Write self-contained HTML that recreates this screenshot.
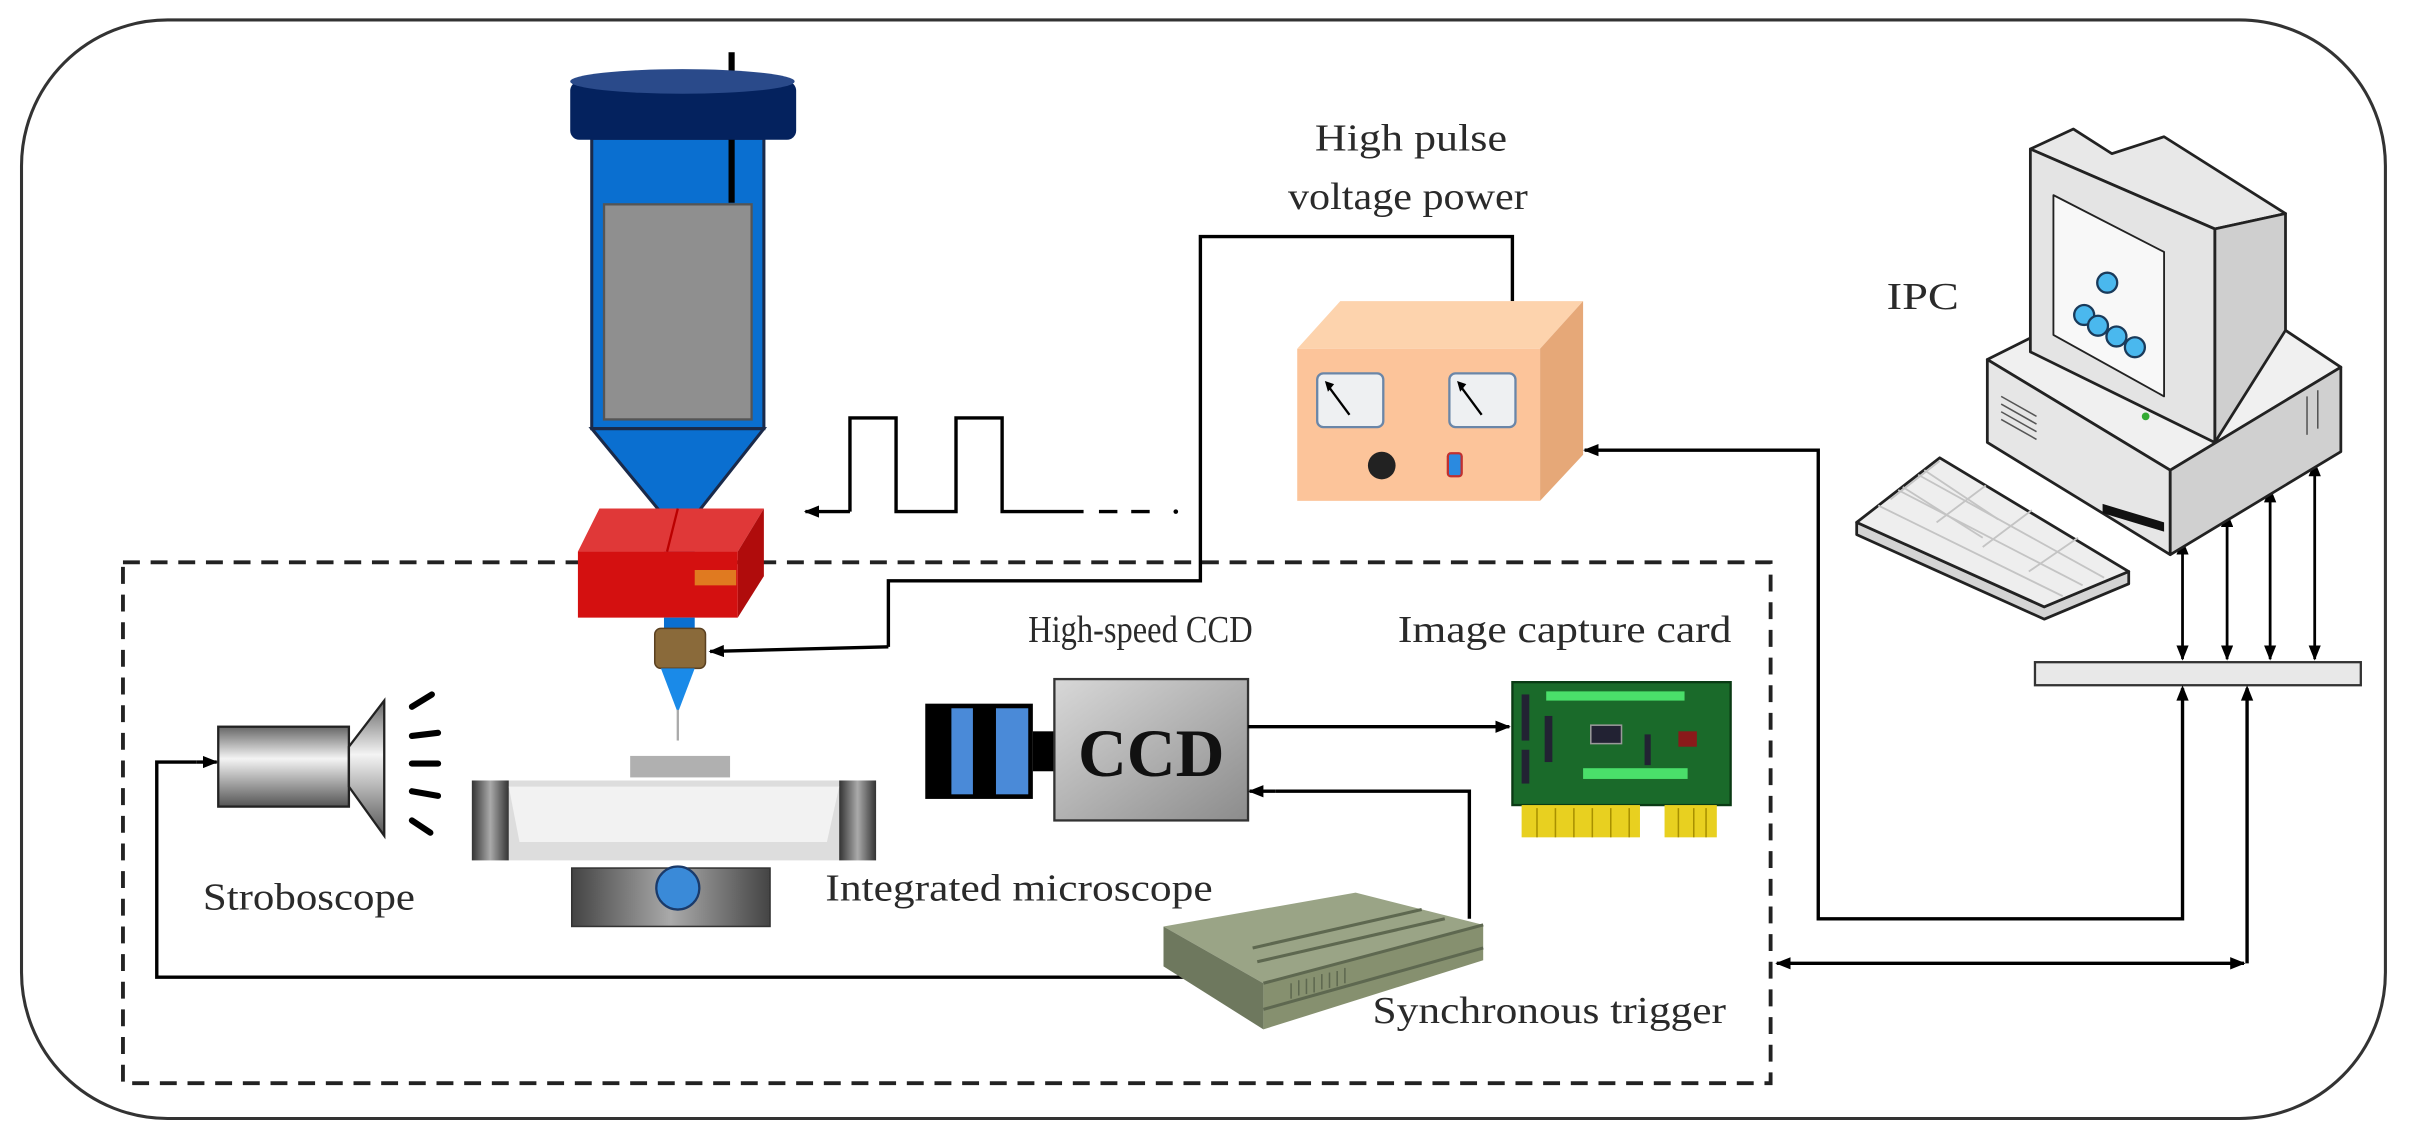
<!DOCTYPE html>
<html><head><meta charset="utf-8"><style>
html,body{margin:0;padding:0;background:#fff;}
svg{display:block;}
text{font-family:"Liberation Serif",serif;fill:#2a2a2a;}
</style></head><body>
<svg width="2410" height="1140" viewBox="0 0 1568 742" preserveAspectRatio="none" xmlns="http://www.w3.org/2000/svg">
<defs>
<marker id="ah" markerWidth="10" markerHeight="8" refX="9" refY="4" orient="auto" markerUnits="userSpaceOnUse"><path d="M0,0 L10,4 L0,8 z" fill="#000"/></marker>
<marker id="as" markerWidth="10" markerHeight="8" refX="1" refY="4" orient="auto" markerUnits="userSpaceOnUse"><path d="M10,0 L0,4 L10,8 z" fill="#000"/></marker>
<linearGradient id="ccd" x1="0" y1="0" x2="1" y2="1"><stop offset="0" stop-color="#d8d8d8"/><stop offset="1" stop-color="#8c8c8c"/></linearGradient>
<linearGradient id="strobe" x1="0" y1="0" x2="0" y2="1"><stop offset="0" stop-color="#666"/><stop offset="0.4" stop-color="#f4f4f4"/><stop offset="1" stop-color="#555"/></linearGradient>
<linearGradient id="base" x1="0" y1="0" x2="1" y2="0"><stop offset="0" stop-color="#444"/><stop offset="0.5" stop-color="#aaa"/><stop offset="1" stop-color="#444"/></linearGradient>
<linearGradient id="blk" x1="0" y1="0" x2="1" y2="0"><stop offset="0" stop-color="#333"/><stop offset="0.5" stop-color="#aaa"/><stop offset="1" stop-color="#333"/></linearGradient>
</defs>

<rect x="14" y="13" width="1538" height="715" rx="95" ry="95" fill="none" stroke="#333" stroke-width="2"/>
<rect x="80" y="366" width="1072" height="339" fill="none" stroke="#222" stroke-width="2.5" stroke-dasharray="11 7"/>

<!-- syringe -->
<line x1="476" y1="34" x2="476" y2="50" stroke="#000" stroke-width="4"/>
<rect x="385" y="90" width="112" height="189" fill="#0a6fd0" stroke="#1a2a4a" stroke-width="2"/>
<line x1="476" y1="90" x2="476" y2="132" stroke="#000" stroke-width="4"/>
<rect x="393" y="133" width="96" height="140" fill="#8f8f8f" stroke="#555" stroke-width="1.5"/>
<path d="M385,279 L497,279 L452,336 L432,336 Z" fill="#0a6fd0" stroke="#1a2a4a" stroke-width="2"/>
<rect x="371" y="53" width="147" height="38" rx="6" fill="#04225e"/>
<ellipse cx="444" cy="53" rx="73" ry="8" fill="#2a4a8a"/>
<rect x="432" y="334" width="20" height="26" fill="#0a6fd0"/>
<path d="M376,359 L390,331 L497,331 L480,359 Z" fill="#e03838"/>
<path d="M480,359 L497,331 L497,375 L480,402 Z" fill="#b00c0c"/>
<rect x="376" y="359" width="104" height="43" fill="#d41010"/>
<line x1="441" y1="331" x2="434" y2="359" stroke="#b00" stroke-width="1.5"/>
<rect x="452" y="371" width="27" height="10" fill="#e07a20"/>
<rect x="432" y="402" width="20" height="8" fill="#0a6fd0"/>
<rect x="426" y="409" width="33" height="26" rx="4" fill="#8a6a3a" stroke="#5a4020" stroke-width="1"/>
<path d="M430,435 L452,435 L441,464 Z" fill="#1a8ae8"/>
<line x1="441" y1="462" x2="441" y2="482" stroke="#aaa" stroke-width="1.5"/>
<rect x="410" y="492" width="65" height="14" fill="#b0b0b0"/>
<rect x="307" y="508" width="263" height="52" fill="#ddd"/>
<rect x="307" y="508" width="24" height="52" fill="url(#blk)"/>
<rect x="546" y="508" width="24" height="52" fill="url(#blk)"/>
<path d="M331,512 L546,512 L538,548 L338,548 Z" fill="#f2f2f2"/>
<rect x="372" y="565" width="129" height="38" fill="url(#base)" stroke="#333" stroke-width="1"/>
<circle cx="441" cy="578" r="14" fill="#3a8ad8" stroke="#1a3a6a" stroke-width="1.5"/>

<!-- stroboscope -->
<rect x="142" y="473" width="85" height="52" fill="url(#strobe)" stroke="#222" stroke-width="1.5"/>
<path d="M227,486 L250,456 L250,544 L227,512 Z" fill="url(#strobe)" stroke="#222" stroke-width="1.5"/>
<g stroke="#000" stroke-width="4" stroke-linecap="round">
<line x1="268" y1="460" x2="281" y2="452"/>
<line x1="268" y1="479" x2="285" y2="477"/>
<line x1="268" y1="497" x2="285" y2="497"/>
<line x1="268" y1="515" x2="285" y2="518"/>
<line x1="268" y1="534" x2="280" y2="542"/>
</g>

<polyline points="553,333 553,272 583,272 583,333 622,333 622,272 652,272 652,333 705,333" fill="none" stroke="#000" stroke-width="2.2"/>
<line x1="553" y1="333" x2="524" y2="333" stroke="#000" stroke-width="2.2" marker-end="url(#ah)"/>
<line x1="715" y1="333" x2="748" y2="333" stroke="#000" stroke-width="2.2" stroke-dasharray="12 9"/>
<circle cx="765" cy="333" r="1.5" fill="#000"/>

<polyline points="984,196 984,154 781,154 781,378 578,378 578,421" fill="none" stroke="#000" stroke-width="2.2"/>
<line x1="578" y1="421" x2="462" y2="424" stroke="#000" stroke-width="2.2" marker-end="url(#ah)"/>

<!-- power supply -->
<path d="M844,227 L872,196 L1030,196 L1002,227 Z" fill="#fdd3ad"/>
<path d="M1002,227 L1030,196 L1030,296 L1002,326 Z" fill="#e6a878"/>
<rect x="844" y="227" width="158" height="99" fill="#fcc49a"/>
<rect x="857" y="243" width="43" height="35" rx="4" fill="#eef0f2" stroke="#6a86a8" stroke-width="1.5"/>
<rect x="943" y="243" width="43" height="35" rx="4" fill="#eef0f2" stroke="#6a86a8" stroke-width="1.5"/>
<line x1="864" y1="251" x2="878" y2="270" stroke="#000" stroke-width="1.5"/><path d="M862,248 L868,250 L864,255 Z" fill="#000"/>
<line x1="950" y1="251" x2="964" y2="270" stroke="#000" stroke-width="1.5"/><path d="M948,248 L954,250 L950,255 Z" fill="#000"/>
<circle cx="899" cy="303" r="9" fill="#222"/>
<rect x="942" y="295" width="9" height="15" rx="2" fill="#2a8ae0" stroke="#c03030" stroke-width="1.5"/>

<!-- CCD -->
<rect x="602" y="458" width="70" height="62" fill="#000"/>
<rect x="619" y="461" width="14" height="56" fill="#4a8ad8"/>
<rect x="648" y="461" width="21" height="56" fill="#4a8ad8"/>
<rect x="672" y="476" width="14" height="26" fill="#000"/>
<rect x="686" y="442" width="126" height="92" fill="url(#ccd)" stroke="#333" stroke-width="1.5"/>
<text x="749" y="505" font-size="44" font-weight="bold" text-anchor="middle" style="fill:#111">CCD</text>

<!-- capture card -->
<rect x="984" y="444" width="142" height="80" fill="#1a6a2a" stroke="#0a3a14" stroke-width="1.5"/>
<rect x="1006" y="450" width="90" height="6" fill="#4adf6a"/>
<rect x="1030" y="500" width="68" height="7" fill="#4adf6a"/>
<rect x="990" y="452" width="5" height="30" fill="#223"/>
<rect x="1005" y="466" width="5" height="30" fill="#223"/>
<rect x="990" y="488" width="5" height="22" fill="#223"/>
<rect x="1035" y="472" width="20" height="12" fill="#223" stroke="#999" stroke-width="1"/>
<rect x="1070" y="478" width="4" height="20" fill="#223"/>
<rect x="1092" y="476" width="12" height="10" fill="#8a1a1a"/>
<rect x="990" y="524" width="77" height="21" fill="#e8d020"/>
<rect x="1083" y="524" width="34" height="21" fill="#e8d020"/>
<g stroke="#a89000" stroke-width="1"><line x1="1000" y1="526" x2="1000" y2="545"/><line x1="1012" y1="526" x2="1012" y2="545"/><line x1="1024" y1="526" x2="1024" y2="545"/><line x1="1036" y1="526" x2="1036" y2="545"/><line x1="1048" y1="526" x2="1048" y2="545"/><line x1="1060" y1="526" x2="1060" y2="545"/><line x1="1092" y1="526" x2="1092" y2="545"/><line x1="1102" y1="526" x2="1102" y2="545"/><line x1="1110" y1="526" x2="1110" y2="545"/></g>

<line x1="812" y1="473" x2="982" y2="473" stroke="#000" stroke-width="2.2" marker-end="url(#ah)"/>
<polyline points="956,598 956,515 830,515" fill="none" stroke="#000" stroke-width="2.2"/>
<line x1="830" y1="515" x2="813" y2="515" stroke="#000" stroke-width="2.2" marker-end="url(#ah)"/>
<polyline points="780,636 102,636 102,496 128,496" fill="none" stroke="#000" stroke-width="2.2"/>
<line x1="128" y1="496" x2="141" y2="496" stroke="#000" stroke-width="2.2" marker-end="url(#ah)"/>

<!-- synchronous trigger -->
<path d="M757,603 L882,581 L965,602 L822,640 Z" fill="#9aa486"/>
<path d="M757,603 L822,640 L822,670 L757,629 Z" fill="#6e785e"/>
<path d="M822,640 L965,602 L965,625 L822,670 Z" fill="#86906f"/>
<g stroke="#5e6850" stroke-width="2"><line x1="815" y1="617" x2="925" y2="592"/><line x1="818" y1="626" x2="940" y2="598"/><line x1="822" y1="640" x2="965" y2="602"/><line x1="822" y1="657" x2="965" y2="617"/></g>
<g stroke="#5e6850" stroke-width="1"><line x1="840" y1="640" x2="840" y2="650"/><line x1="845" y1="638" x2="845" y2="648"/><line x1="850" y1="637" x2="850" y2="647"/><line x1="855" y1="636" x2="855" y2="646"/><line x1="860" y1="634" x2="860" y2="644"/><line x1="865" y1="633" x2="865" y2="643"/><line x1="870" y1="632" x2="870" y2="642"/><line x1="875" y1="630" x2="875" y2="640"/></g>

<!-- bus -->
<rect x="1324" y="431" width="212" height="15" fill="#e8e8e8" stroke="#333" stroke-width="1.5"/>
<g stroke="#000" stroke-width="1.8">
<line x1="1420" y1="352" x2="1420" y2="429" marker-start="url(#as)" marker-end="url(#ah)"/>
<line x1="1449" y1="334" x2="1449" y2="429" marker-start="url(#as)" marker-end="url(#ah)"/>
<line x1="1477" y1="318" x2="1477" y2="429" marker-start="url(#as)" marker-end="url(#ah)"/>
<line x1="1506" y1="301" x2="1506" y2="429" marker-start="url(#as)" marker-end="url(#ah)"/>
</g>
<polyline points="1420,448 1420,598 1183,598 1183,293 1040,293" fill="none" stroke="#000" stroke-width="2.2"/>
<path d="M1420,446 L1416,456 L1424,456 Z" fill="#000"/>
<line x1="1040" y1="293" x2="1031" y2="293" stroke="#000" stroke-width="2.2" marker-end="url(#ah)"/>
<polyline points="1462,448 1462,627" fill="none" stroke="#000" stroke-width="2.2"/>
<path d="M1462,446 L1458,456 L1466,456 Z" fill="#000"/>
<line x1="1156" y1="627" x2="1460" y2="627" stroke="#000" stroke-width="2.2" marker-start="url(#as)" marker-end="url(#ah)"/>

<!-- computer -->
<g stroke="#222" stroke-width="1.8" stroke-linejoin="round">
<path d="M1293,234 L1321,220 L1487,215 L1523,239 L1412,306 Z" fill="#f0f0f0"/>
<path d="M1293,234 L1412,306 L1412,361 L1293,288 Z" fill="#e6e6e6"/>
<path d="M1412,306 L1523,239 L1523,294 L1412,361 Z" fill="#d0d0d0"/>
<path d="M1321,97 L1349,84 L1374,100 L1408,89 L1487,139 L1441,149 Z" fill="#e8e8e8"/>
<path d="M1441,149 L1487,139 L1487,215 L1441,288 Z" fill="#cfcfcf"/>
<path d="M1321,97 L1441,149 L1441,288 L1321,229 Z" fill="#e4e4e4"/>
<path d="M1336,127 L1408,164 L1408,258 L1336,218 Z" fill="#f8f8f8" stroke-width="1.2"/>
</g>
<g fill="#4ab8ee" stroke="#1a3a5a" stroke-width="1.5">
<circle cx="1371" cy="184" r="6.5"/><circle cx="1356" cy="205" r="6.5"/><circle cx="1365" cy="212" r="6.5"/><circle cx="1377" cy="219" r="6.5"/><circle cx="1389" cy="226" r="6.5"/>
</g>
<circle cx="1396" cy="271" r="2.5" fill="#3a3"/>
<path d="M1368,328 L1408,340 L1408,346 L1368,334 Z" fill="#111"/>
<g stroke="#555" stroke-width="1"><line x1="1302" y1="258" x2="1325" y2="271"/><line x1="1302" y1="263" x2="1325" y2="276"/><line x1="1302" y1="268" x2="1325" y2="281"/><line x1="1302" y1="273" x2="1325" y2="286"/><line x1="1501" y1="258" x2="1501" y2="283"/><line x1="1508" y1="254" x2="1508" y2="279"/></g>
<g stroke="#222" stroke-width="1.8" stroke-linejoin="round">
<path d="M1208,340 L1208,348 L1330,403 L1385,380 L1385,372 L1330,395 Z" fill="#d4d4d4"/>
<path d="M1208,340 L1262,298 L1385,372 L1330,395 Z" fill="#eeeeee"/>
</g>
<g stroke="#c4c4c4" stroke-width="1.2">
<line x1="1222" y1="329" x2="1342" y2="388"/><line x1="1235" y1="319" x2="1355" y2="381"/><line x1="1248" y1="309" x2="1369" y2="376"/>
<line x1="1238" y1="317" x2="1290" y2="350"/><line x1="1252" y1="306" x2="1300" y2="338"/>
<line x1="1230" y1="325" x2="1262" y2="300"/><line x1="1260" y1="340" x2="1292" y2="316"/><line x1="1290" y1="356" x2="1322" y2="332"/><line x1="1320" y1="372" x2="1352" y2="350"/>
</g>

<text x="201" y="592" font-size="25" text-anchor="middle" textLength="138" lengthAdjust="spacingAndGlyphs">Stroboscope</text>
<text x="663" y="586" font-size="25" text-anchor="middle" textLength="252" lengthAdjust="spacingAndGlyphs">Integrated microscope</text>
<text x="742" y="418" font-size="25" text-anchor="middle" textLength="146" lengthAdjust="spacingAndGlyphs">High-speed CCD</text>
<text x="1018" y="418" font-size="25" text-anchor="middle" textLength="217" lengthAdjust="spacingAndGlyphs">Image capture card</text>
<text x="918" y="98" font-size="25" text-anchor="middle" textLength="125" lengthAdjust="spacingAndGlyphs">High pulse</text>
<text x="916" y="136" font-size="25" text-anchor="middle" textLength="156" lengthAdjust="spacingAndGlyphs">voltage power</text>
<text x="1251" y="201" font-size="25" text-anchor="middle" textLength="47" lengthAdjust="spacingAndGlyphs">IPC</text>
<text x="1008" y="666" font-size="25" text-anchor="middle" textLength="230" lengthAdjust="spacingAndGlyphs">Synchronous trigger</text>
</svg>
</body></html>
